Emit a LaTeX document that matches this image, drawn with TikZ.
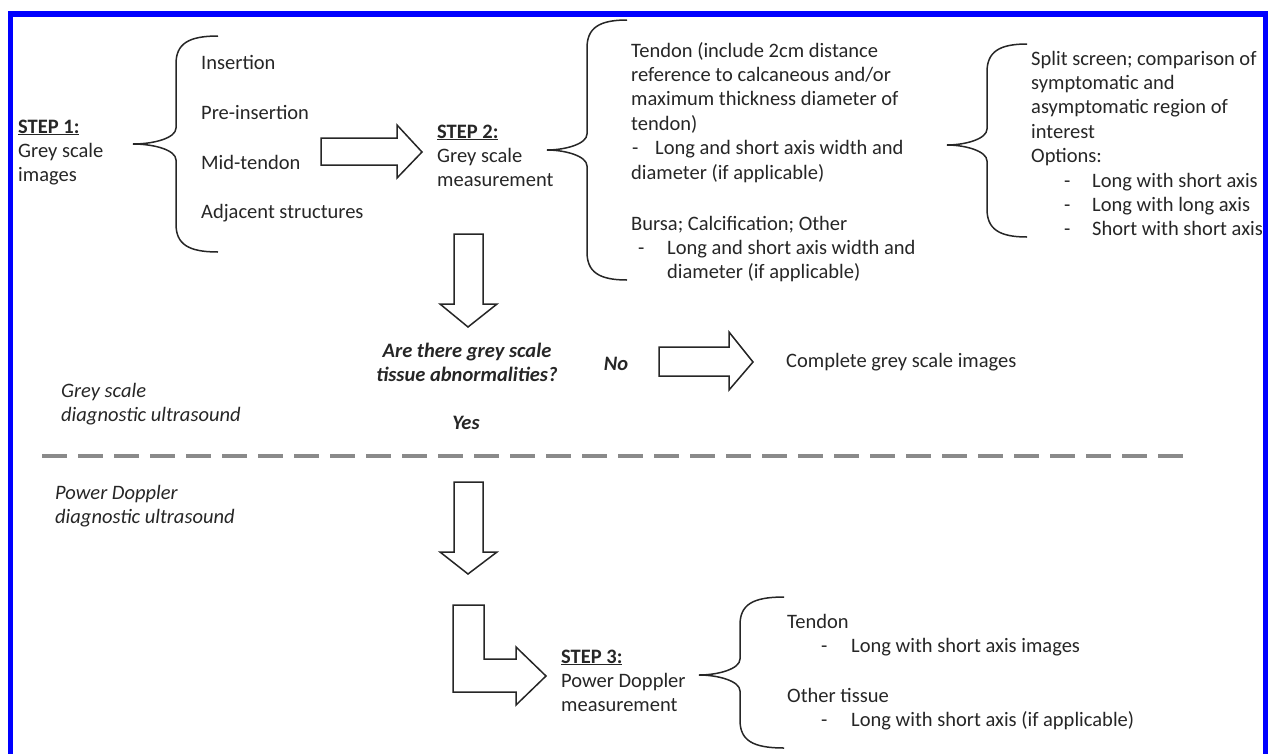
\documentclass[tikz,border=0pt]{standalone}
\usepackage{fontspec}
\setmainfont{Carlito}
\definecolor{txtc}{RGB}{38,38,38}
\definecolor{framec}{RGB}{0,0,255}
\definecolor{dashc}{RGB}{138,138,138}
\newcommand\drawbrace[6]{% xe, xv, xtip, ytop, ytip, ybot
  \draw[bracestyle] (#1,#4) .. controls (#2+12,#4) and (#2,#4+8) .. (#2,#4+28)
    -- (#2,#5-16) .. controls (#2,#5-6) and (#2-22,#5) .. (#3,#5)
    .. controls (#2-22,#5) and (#2,#5+6) .. (#2,#5+16)
    -- (#2,#6-28) .. controls (#2,#6-8) and (#2+12,#6) .. (#1,#6);}
\newcommand\llines[1]{\begin{tabular}[t]{@{}l@{}}#1\end{tabular}}
\newcommand\clines[1]{\begin{tabular}[t]{@{}c@{}}#1\end{tabular}}
\begin{document}
\begin{tikzpicture}[x=1pt,y=-1pt,
  txt/.style={inner sep=0pt, text=txtc, anchor=base west,
    font=\fontsize{20.5}{24.4}\selectfont},
  ctxt/.style={txt, anchor=base,
    font=\fontsize{20.5}{24.4}\selectfont\bfseries\itshape},
  itxt/.style={txt, font=\fontsize{20.5}{24.4}\selectfont\itshape},
  bracestyle/.style={draw=txtc, line width=1.5pt},
  blockarrow/.style={draw=txtc, line width=1.5pt, fill=white, line join=miter},
]
\useasboundingbox (0,0) rectangle (1270,753);
% frame
\draw[framec, line width=5.5pt] (10.5,760) -- (10.5,14) -- (1265.5,14) -- (1265.5,760);
% dashed separator
\coordinate (dl) at (42,456);
\coordinate (dr) at (1187,456);
\draw[dashc, line width=4pt, dash pattern=on 24.5pt off 11.5pt] (dl) -- (dr);

% STEP 1
\node[txt] (s1) at (18,133) {\llines{\textbf{\underline{STEP 1:}}\\Grey scale\\images}};
\drawbrace{218}{176}{133}{36}{144}{252}
\node[txt] (i1) at (201,69) {Insertion};
\node[txt] (i2) at (201,119) {Pre-insertion};
\node[txt] (i3) at (201,169) {Mid-tendon};
\node[txt] (i4) at (201,218) {Adjacent structures};

% arrow 1 -> step 2
\draw[blockarrow] (321,138) -- (397,138) -- (397,125) -- (422,152) -- (397,178) -- (397,165) -- (321,165) -- cycle;

% STEP 2
\node[txt] (s2) at (437,138) {\llines{\textbf{\underline{STEP 2:}}\\Grey scale\\measurement}};
\drawbrace{627}{587}{547}{20}{150}{280}
\node[txt] (t1) at (631,57) {\llines{Tendon (include 2cm distance\\reference to calcaneous and/or\\maximum thickness diameter of\\tendon)\\\hspace*{1pt}\makebox[23pt][l]{-}Long and short axis width and\\diameter (if applicable)}};
\node[txt] (t2) at (631,230) {\llines{Bursa; Calcification; Other\\\hspace*{7pt}\makebox[29pt][l]{-}Long and short axis width and\\\hspace*{36pt}diameter (if applicable)}};

% brace 4
\drawbrace{1027}{987}{947}{44}{145}{237}
\node[txt] (sp) at (1031,65) {\llines{Split screen; comparison of\\symptomatic and\\asymptomatic region of\\interest\\Options:\\\hspace*{33pt}\makebox[28pt][l]{-}Long with short axis\\\hspace*{33pt}\makebox[28pt][l]{-}Long with long axis\\\hspace*{33pt}\makebox[28pt][l]{-}Short with short axis}};

% down arrow 1
\draw[blockarrow] (454,234) -- (483,234) -- (483,304) -- (497,304) -- (468,327) -- (440,304) -- (454,304) -- cycle;

% question
\node[ctxt] (q) at (467,357) {\clines{Are there grey scale\\tissue abnormalities?}};
\node[ctxt] (no) at (616,370) {No};
\node[ctxt] (yes) at (466,429) {Yes};

% No arrow
\draw[blockarrow] (659,347) -- (729,347) -- (729,332) -- (753,362) -- (729,390) -- (729,376) -- (659,376) -- cycle;
\node[txt] (cg) at (786,367) {Complete grey scale images};

% side labels
\node[itxt] (gs) at (61,397) {\llines{Grey scale\\diagnostic ultrasound}};
\node[itxt] (pd) at (55,499) {\llines{Power Doppler\\diagnostic ultrasound}};

% down arrow 2
\draw[blockarrow] (454,482) -- (483,482) -- (483,552) -- (497,552) -- (468,574) -- (440,552) -- (454,552) -- cycle;

% L arrow
\draw[blockarrow] (453,605) -- (484,605) -- (484,659) -- (516,659) -- (516,647) -- (546,676) -- (516,705) -- (516,692) -- (453,692) -- cycle;

% STEP 3
\node[txt] (s3) at (561,663) {\llines{\textbf{\underline{STEP 3:}}\\Power Doppler\\measurement}};
\drawbrace{784}{740}{699}{597}{675}{748}
\node[txt] (pt) at (787,628) {\llines{Tendon\\\hspace*{34pt}\makebox[30pt][l]{-}Long with short axis images}};
\node[txt] (po) at (787,702) {\llines{Other tissue\\\hspace*{34pt}\makebox[30pt][l]{-}Long with short axis (if applicable)}};
\end{tikzpicture}
\end{document}
